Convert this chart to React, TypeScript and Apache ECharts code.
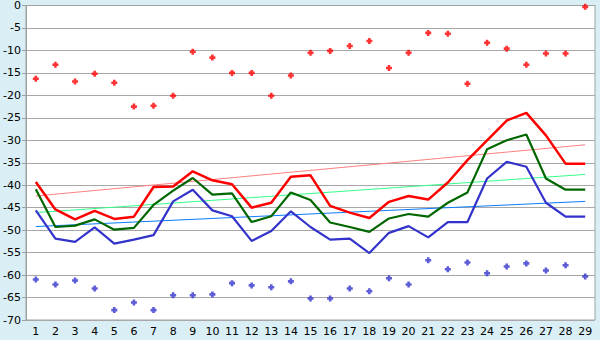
import React, { useEffect, useRef } from "react";
import * as echarts from "echarts";

const categories = Array.from({ length: 29 }, (_, i) => String(i + 1));

const redLine = [-39.3, -45.4, -47.6, -45.7, -47.5, -47.0, -40.4, -40.3, -36.9, -38.9, -39.8, -45.0, -43.9, -38.1, -37.8, -44.6, -46.1, -47.3, -43.7, -42.4, -43.2, -39.4, -34.4, -30.0, -25.6, -23.9, -28.9, -35.2, -35.2];
const greenLine = [-40.9, -49.3, -49.0, -47.6, -49.9, -49.5, -44.4, -41.2, -38.4, -42.1, -41.8, -48.2, -46.9, -41.6, -43.3, -48.3, -49.3, -50.4, -47.4, -46.4, -47.0, -43.9, -41.6, -32.0, -30.0, -28.7, -38.5, -41.0, -41.0];
const blueLine = [-45.6, -51.9, -52.6, -49.4, -53.0, -52.1, -51.1, -43.6, -41.0, -45.6, -46.9, -52.4, -50.2, -45.8, -49.3, -52.1, -51.9, -55.1, -50.6, -49.1, -51.6, -48.2, -48.2, -38.5, -34.8, -35.9, -43.9, -47.0, -47.0];
const redPoints = [-16.3, -13.2, -16.9, -15.2, -17.2, -22.5, -22.3, -20.1, -10.3, -11.6, -15.0, -15.0, -20.1, -15.6, -10.5, -10.1, -9.0, -7.9, -13.9, -10.5, -6.1, -6.3, -17.4, -8.3, -9.6, -13.2, -10.7, -10.7, -0.3];
const bluePoints = [-61.0, -62.1, -61.2, -63.0, -67.8, -66.1, -67.8, -64.5, -64.5, -64.3, -61.8, -62.3, -62.7, -61.4, -65.2, -65.2, -63.0, -63.6, -60.7, -62.1, -56.7, -58.7, -57.2, -59.6, -58.1, -57.4, -59.0, -57.8, -60.3];
const redTrend = [-42.4, -31.0];
const greenTrend = [-46.1, -37.6];
const blueTrend = [-49.2, -43.6];

const PLUS = "path://M2,0H5V2H7V5H5V7H2V5H0V2H2Z";

function trendData(ends: number[]) {
  return [
    [categories[0], ends[0]],
    [categories[categories.length - 1], ends[1]],
  ];
}

export default function App() {
  const ref = useRef<HTMLDivElement>(null);
  useEffect(() => {
    if (!ref.current) return;
    const chart = echarts.init(ref.current, null, { renderer: "svg" });
    const font = { fontFamily: "DejaVu Sans", fontSize: 11, color: "#000" };
    chart.setOption({
      animation: false,
      backgroundColor: "#d9eff5",
      grid: {
        left: 26,
        right: 5,
        top: 5,
        bottom: 20,
        show: true,
        backgroundColor: "#ffffff",
        borderColor: "#a0a0a0",
        borderWidth: 1,
      },
      xAxis: {
        type: "category",
        data: categories,
        boundaryGap: true,
        axisLine: { lineStyle: { color: "#a0a0a0", width: 1 } },
        axisTick: { alignWithLabel: true, length: 5, lineStyle: { color: "#000" } },
        axisLabel: { ...font, margin: 6, interval: 0 },
        splitLine: { show: false },
      },
      yAxis: {
        type: "value",
        min: -70,
        max: 0,
        interval: 5,
        axisLine: { show: true, lineStyle: { color: "#a0a0a0", width: 1 } },
        axisTick: { show: true, length: 4, lineStyle: { color: "#a0a0a0" } },
        axisLabel: { ...font, margin: 5 },
        splitLine: { lineStyle: { color: "#a8a8a8", width: 1 } },
      },
      series: [
        {
          type: "line",
          data: trendData(redTrend),
          symbol: "none",
          lineStyle: { color: "#ff8080", width: 1 },
          z: 1,
        },
        {
          type: "line",
          data: trendData(greenTrend),
          symbol: "none",
          lineStyle: { color: "#33ff88", width: 1 },
          z: 1,
        },
        {
          type: "line",
          data: trendData(blueTrend),
          symbol: "none",
          lineStyle: { color: "#0a7cff", width: 1 },
          z: 1,
        },
        {
          type: "line",
          data: redLine,
          symbol: "none",
          lineStyle: { color: "#ff0000", width: 2.5 },
          z: 3,
        },
        {
          type: "line",
          data: greenLine,
          symbol: "none",
          lineStyle: { color: "#006600", width: 2.2 },
          z: 3,
        },
        {
          type: "line",
          data: blueLine,
          symbol: "none",
          lineStyle: { color: "#3333cc", width: 2.2 },
          z: 3,
        },
        {
          type: "scatter",
          data: redPoints,
          symbol: PLUS,
          symbolSize: 6,
          itemStyle: { color: "#ff0000" },
          z: 4,
        },
        {
          type: "scatter",
          data: bluePoints,
          symbol: PLUS,
          symbolSize: 6,
          itemStyle: { color: "#3333cc" },
          z: 4,
        },
      ],
    });
    return () => chart.dispose();
  }, []);
  return <div ref={ref} style={{ width: 600, height: 340, position: "absolute", left: 0, top: 0 }} />;
}
